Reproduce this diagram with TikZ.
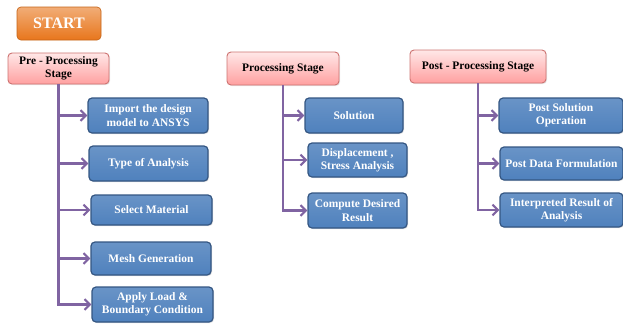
\documentclass[tikz,border=0pt]{standalone}
\usepackage{fontspec}
\setmainfont{Liberation Serif}
\usetikzlibrary{arrows.meta,positioning,shadows}
\definecolor{stepblue}{RGB}{79,129,189}
\definecolor{stepblueD}{RGB}{52,86,130}
\definecolor{stagepink}{RGB}{255,160,160}
\definecolor{stageline}{RGB}{192,80,77}
\definecolor{startor}{RGB}{232,118,28}
\definecolor{flowpurp}{RGB}{128,100,162}
\tikzset{
  taskbox/.style={draw=stepblueD, line width=0.9pt, top color=stepblue!85!white, bottom color=stepblue,
              rounded corners=3pt, align=center, text=white, font=\fontsize{8.6}{10}\selectfont\bfseries,
              inner sep=1pt, drop shadow={opacity=0.25, shadow xshift=0.8pt, shadow yshift=-0.8pt}},
  stagebox/.style={draw=stageline!80, line width=0.7pt, top color=stagepink!25!white, bottom color=stagepink,
              rounded corners=3pt, align=center, text=black, font=\fontsize{8.6}{10}\selectfont\bfseries,
              inner sep=1pt, drop shadow={opacity=0.2, shadow xshift=0.8pt, shadow yshift=-0.8pt}},
  startbox/.style={draw=startor!85!black, line width=0.5pt, top color=startor!60!white, bottom color=startor,
              rounded corners=3pt, align=center, text=white, font=\fontsize{12}{14}\selectfont\bfseries},
  flowarr/.style={-{Straight Barb[length=4pt,width=8pt]}, flowpurp, line width=1.6pt},
}

\begin{document}
\begin{tikzpicture}[x=0.75pt,y=-0.75pt]
  \useasboundingbox (0,0) rectangle (623,326);
  % start
  \node[startbox, minimum width=63pt, minimum height=24.75pt] (start) at (59,23.5) {START};
  % stages
  \node[stagebox, minimum width=75.75pt, minimum height=23.25pt] (pre) at (58.5,68.5) {Pre - Processing\\Stage};
  \node[stagebox, minimum width=84pt, minimum height=24.75pt] (proc) at (283,68.5) {Processing Stage};
  \node[stagebox, minimum width=102pt, minimum height=24.75pt] (post) at (478,66.5) {Post - Processing Stage};
  % pre-processing steps
  \node[taskbox, minimum width=90pt, minimum height=26.25pt] (imp) at (148,115.5) {Import the design\\model to ANSYS};
  \node[taskbox, minimum width=89.25pt, minimum height=26.25pt] (typ) at (148.5,163.5) {Type of Analysis};
  \node[taskbox, minimum width=90.75pt, minimum height=22.5pt] (mat) at (151.5,210) {Select Material};
  \node[taskbox, minimum width=90pt, minimum height=24.75pt] (mesh) at (151,258.5) {Mesh Generation};
  \node[taskbox, minimum width=90.75pt, minimum height=26.25pt] (load) at (152.5,304.5) {Apply Load \&\\Boundary Condition};
  % processing steps
  \node[taskbox, minimum width=73.5pt, minimum height=26.25pt] (sol) at (354,115.5) {Solution};
  \node[taskbox, minimum width=74.25pt, minimum height=25.5pt] (disp) at (357.5,160) {Displacement ,\\Stress Analysis};
  \node[taskbox, minimum width=74.25pt, minimum height=26.25pt] (comp) at (357.5,210.5) {Compute Desired\\Result};
  % post-processing steps
  \node[taskbox, minimum width=93pt, minimum height=26.25pt] (psol) at (561,115.5) {Post Solution\\Operation};
  \node[taskbox, minimum width=92.25pt, minimum height=24.75pt] (pdat) at (561.5,163.5) {Post Data Formulation};
  \node[taskbox, minimum width=92.25pt, minimum height=25.5pt] (pint) at (561.5,210) {Interpreted Result of\\Analysis};
  % connectors
  \foreach \t in {imp,typ,mat,mesh,load}
    \draw[flowarr] (pre.south) |- (\t.west);
  \foreach \t in {sol,disp,comp}
    \draw[flowarr] (proc.south) |- (\t.west);
  \foreach \t in {psol,pdat,pint}
    \draw[flowarr] (post.south) |- (\t.west);
\end{tikzpicture}
\end{document}
